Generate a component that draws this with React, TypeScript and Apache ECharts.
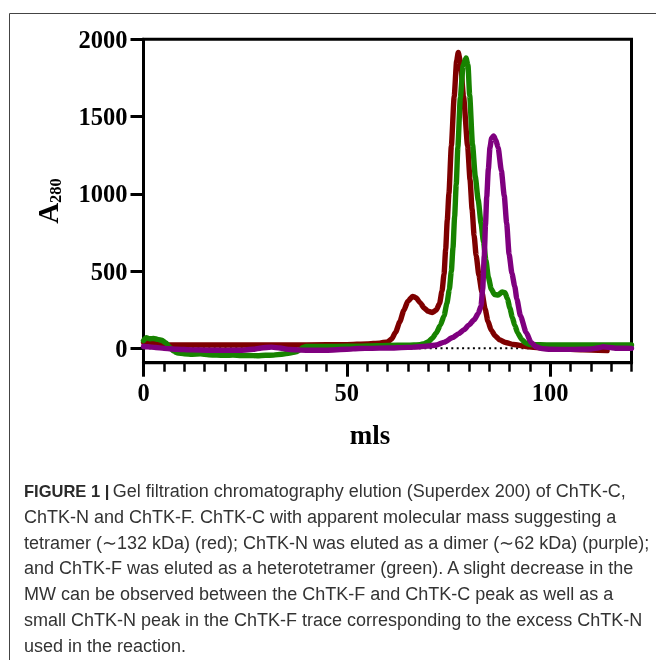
import React, { useEffect, useRef } from 'react';
import * as echarts from 'echarts';

// ---- Data (elution volume in mls, A280) ----
const xMajorTicks = [0, 50, 100];
const yTickValues = [0, 500, 1000, 1500, 2000];

// ChTK-C (red)
const chtkC: [number, number][] = [
  [0, 38], [1, 40], [3, 36], [4.5, 28], [6, 22], [10, 22], [20, 22], [30, 22], [40, 22],
  [50, 24], [55, 28], [58, 34], [60, 42], [61, 60], [62, 105], [63, 170], [64, 245],
  [65, 305], [66.2, 336], [67, 328], [68, 296], [69, 262], [70, 240], [71, 232], [72, 248],
  [72.8, 290], [73.4, 370], [73.9, 480], [74.3, 640], [74.7, 830], [75.1, 1000], [75.7, 1310],
  [76.4, 1630], [77, 1860], [77.4, 1915], [77.9, 1860], [78.7, 1630], [79.7, 1310],
  [80.3, 1090], [80.8, 900], [81.3, 730], [81.8, 600], [82.5, 470], [83.2, 365], [84, 255],
  [84.7, 175], [85.5, 118], [86.5, 80], [87.5, 56], [89, 38], [91, 25], [94, 12], [98, 2],
  [102, -4], [108, -10], [114, -15],
];

// ChTK-F (green)
const chtkF: [number, number][] = [
  [0, 50], [0.7, 68], [1.5, 62], [2.5, 64], [3.5, 58], [4.5, 52], [5.5, 35], [6.5, 5],
  [7.5, -20], [8.5, -30], [10, -35], [12, -38], [14, -36], [16, -42], [18, -44], [20, -45],
  [22, -44], [24, -47], [26, -46], [28, -48], [30, -45], [32, -44], [34, -38], [36, -30],
  [37.5, -22], [38.5, -10], [39.2, 5], [40, 12], [45, 12], [50, 13], [55, 16], [60, 19],
  [65, 21], [68, 24], [69, 30], [70, 42], [71, 65], [72, 100], [73, 150], [73.9, 210],
  [74.6, 290], [75.2, 380], [75.7, 500], [76.1, 650], [76.5, 850], [76.9, 1060], [77.3, 1300],
  [77.9, 1620], [78.6, 1830], [79.3, 1880], [79.8, 1830], [80.2, 1640], [80.9, 1320],
  [81.6, 1110], [82.3, 960], [83, 810], [83.6, 690], [84.2, 570], [84.8, 460], [85.5, 385],
  [86.3, 348], [87.2, 345], [88.2, 365], [88.9, 360], [89.5, 320], [90.1, 260], [90.7, 200],
  [91.3, 150], [92, 100], [93, 58], [94, 34], [95, 25], [100, 22], [110, 22], [120, 22],
];

// ChTK-N (purple)
const chtkN: [number, number][] = [
  [0, 12], [1, 10], [3, 5], [5, 0], [8, -6], [12, -10], [16, -12], [20, -13], [24, -12],
  [27, -6], [29, 2], [31.5, 8], [33.5, 2], [36, -8], [40, -12], [45, -12], [50, -6], [53, -1],
  [56, 0], [60, 2], [65, 6], [68, 10], [70, 15], [72, 22], [74, 40], [76, 70], [77.5, 95],
  [78.8, 120], [80, 150], [81.3, 185], [82.3, 225], [83, 275], [83.4, 380], [83.8, 600],
  [84.1, 800], [84.4, 980], [84.8, 1160], [85.2, 1300], [85.6, 1360], [86.1, 1375],
  [86.6, 1350], [87.2, 1300], [88, 1150], [88.7, 990], [89.3, 810], [89.9, 610], [90.6, 485],
  [91.3, 400], [91.8, 320], [92.7, 210], [94.1, 103], [95.3, 38], [96.5, 10], [98, -2],
  [100, -6], [105, -7], [110, -4], [112, 4], [113, 10], [114.5, 6], [116, 1], [120, 0],
];

const zeroLine: [number, number][] = [[0, 0], [120, 0]];

const captionLines = [
  'Gel filtration chromatography elution (Superdex 200) of ChTK-C,',
  'ChTK-N and ChTK-F. ChTK-C with apparent molecular mass suggesting a',
  'tetramer (\u223C132 kDa) (red); ChTK-N was eluted as a dimer (\u223C62 kDa) (purple);',
  'and ChTK-F was eluted as a heterotetramer (green). A slight decrease in the',
  'MW can be observed between the ChTK-F and ChTK-C peak as well as a',
  'small ChTK-N peak in the ChTK-F trace corresponding to the excess ChTK-N',
  'used in the reaction.',
];
const captionLabel = 'FIGURE 1 |';

const SERIF = "'Liberation Serif', 'Times New Roman', serif";
const SANS = "'Liberation Sans', Arial, sans-serif";

export default function App() {
  const ref = useRef<HTMLDivElement>(null);

  useEffect(() => {
    if (!ref.current) return;
    const chart = echarts.init(ref.current, null, { renderer: 'svg' });

    const lineSeries = (name: string, data: [number, number][], color: string, z: number) => ({
      name,
      type: 'line',
      data,
      showSymbol: false,
      smooth: 0.2,
      smoothMonotone: 'x',
      z,
      lineStyle: { color, width: 5.4, cap: 'round', join: 'round' },
      itemStyle: { color },
    });

    const captionGraphics: any[] = captionLines.map((line, i) => {
      const y = 491 + i * 25.8;
      if (i === 0) {
        return {
          type: 'text',
          x: 24,
          y,
          style: {
            text: '{b|' + captionLabel + '} {r|' + line + '}',
            verticalAlign: 'middle',
            align: 'left',
            rich: {
              b: { fontFamily: SANS, fontWeight: 'bold', fontSize: 16.5, fill: '#2a2a2a' },
              r: { fontFamily: SANS, fontSize: 18, fill: '#333333' },
            },
          },
        };
      }
      return {
        type: 'text',
        x: 24,
        y,
        style: {
          text: line,
          fontFamily: SANS,
          fontSize: 18,
          fill: '#333333',
          verticalAlign: 'middle',
          align: 'left',
        },
      };
    });

    const plainNumber = (v: number) => String(v);

    chart.setOption({
      animation: false,
      grid: {
        left: 143.5,
        right: 24.5,
        top: 39.3,
        bottom: 297.3,
        show: true,
        borderColor: '#000',
        borderWidth: 3,
        backgroundColor: 'transparent',
      },
      xAxis: [
        {
          type: 'value',
          min: 0,
          max: 120,
          interval: 5,
          position: 'bottom',
          axisLine: { show: true, onZero: false, lineStyle: { color: '#000', width: 3 } },
          axisTick: { show: true, length: 9, lineStyle: { color: '#000', width: 2.5 } },
          axisLabel: { show: false },
          splitLine: { show: false },
        },
        {
          type: 'value',
          min: 0,
          max: 120,
          position: 'bottom',
          axisLine: { show: false, onZero: false },
          axisTick: {
            show: true,
            length: 14,
            customValues: xMajorTicks,
            lineStyle: { color: '#000', width: 3 },
          },
          axisLabel: {
            show: true,
            customValues: xMajorTicks,
            formatter: plainNumber,
            fontFamily: SERIF,
            fontWeight: 'bold',
            fontSize: 24.5,
            color: '#000',
            margin: 17,
          },
          splitLine: { show: false },
        },
      ],
      yAxis: {
        type: 'value',
        min: -93,
        max: 2000,
        axisLine: { show: true, onZero: false, lineStyle: { color: '#000', width: 3 } },
        axisTick: {
          show: true,
          length: 13,
          customValues: yTickValues,
          lineStyle: { color: '#000', width: 3 },
        },
        axisLabel: {
          show: true,
          customValues: yTickValues,
          formatter: plainNumber,
          fontFamily: SERIF,
          fontWeight: 'bold',
          fontSize: 24.5,
          color: '#000',
          margin: 16,
        },
        splitLine: { show: false },
      },
      series: [
        {
          name: 'baseline',
          type: 'line',
          data: zeroLine,
          showSymbol: false,
          z: 1,
          lineStyle: { color: '#000', width: 2, type: [2, 3.4] },
        },
        lineSeries('ChTK-C', chtkC, '#7e0000', 2),
        lineSeries('ChTK-F', chtkF, '#178300', 3),
        lineSeries('ChTK-N', chtkN, '#7f007f', 4),
      ],
      graphic: [
        {
          type: 'rect',
          shape: { x: 9.5, y: 13.5, width: 700, height: 700 },
          style: { fill: 'none', stroke: '#444', lineWidth: 1 },
          silent: true,
        },
        {
          type: 'text',
          x: 48,
          y: 201,
          rotation: Math.PI / 2,
          style: {
            text: '{a|A}{s|280}',
            align: 'center',
            verticalAlign: 'middle',
            rich: {
              a: { fontFamily: SERIF, fontWeight: 'bold', fontSize: 29, fill: '#000', verticalAlign: 'top', lineHeight: 30 },
              s: { fontFamily: SERIF, fontWeight: 'bold', fontSize: 16.5, fill: '#000', verticalAlign: 'top', lineHeight: 18, padding: [14, 0, 0, 0] },
            },
          },
        },
        {
          type: 'text',
          x: 370,
          y: 435,
          style: {
            text: 'mls',
            fontFamily: SERIF,
            fontWeight: 'bold',
            fontSize: 27,
            fill: '#000',
            align: 'center',
            verticalAlign: 'middle',
          },
        },
        ...captionGraphics,
      ],
    });

    return () => chart.dispose();
  }, []);

  return (
    <div
      ref={ref}
      style={{ position: 'fixed', left: 0, top: 0, width: 656, height: 660 }}
    />
  );
}
